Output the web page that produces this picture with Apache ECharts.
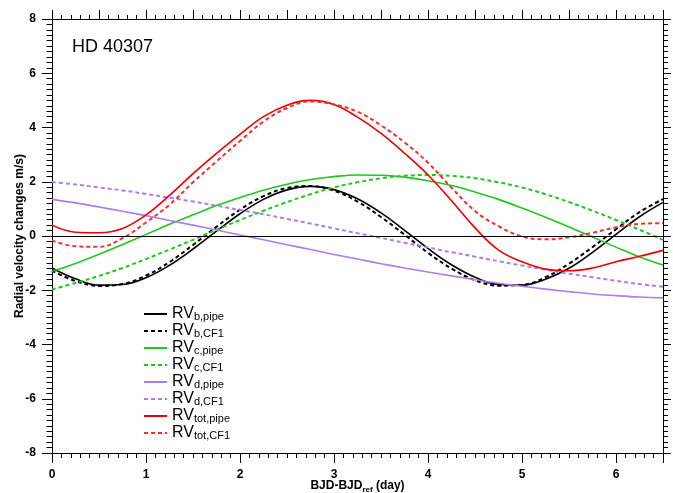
<!DOCTYPE html>
<html>
<head>
<meta charset="utf-8">
<script src="https://cdn.jsdelivr.net/npm/echarts@6/dist/echarts.min.js"></script>
<style>html,body{margin:0;padding:0;background:#fff}#c{width:673px;height:493px}</style>
</head>
<body>
<div id="c"></div>
<script>
// ---- Data ----
const days = [0,0.25,0.5,0.75,1,1.25,1.5,1.75,2,2.25,2.5,2.75,3,3.25,3.5,3.75,4,4.25,4.5,4.75,5,5.25,5.5,5.75,6,6.25,6.5];

const rvBPipe = [-1.18,-1.58,-1.81,-1.79,-1.54,-1.08,-0.48,0.18,0.82,1.35,1.70,1.83,1.71,1.37,0.85,0.21,-0.46,-1.06,-1.52,-1.79,-1.81,-1.59,-1.19,-0.60,0.06,0.71,1.24];
const rvBCF1  = [-1.28,-1.66,-1.84,-1.77,-1.46,-0.96,-0.33,0.34,0.97,1.47,1.77,1.84,1.67,1.27,0.70,0.05,-0.62,-1.20,-1.63,-1.83,-1.80,-1.52,-1.02,-0.41,0.25,0.88,1.36];
const rvCPipe = [-1.30,-1.01,-0.67,-0.31,0.06,0.43,0.78,1.12,1.42,1.69,1.91,2.08,2.19,2.25,2.24,2.17,2.04,1.86,1.62,1.35,1.03,0.69,0.33,-0.04,-0.41,-0.77,-1.07];
const rvCCF1  = [-1.97,-1.73,-1.47,-1.18,-0.85,-0.50,-0.14,0.23,0.59,0.93,1.25,1.54,1.79,1.98,2.13,2.22,2.25,2.22,2.13,1.98,1.79,1.54,1.25,0.93,0.59,0.23,-0.14];
const rvDPipe = [1.35,1.22,1.07,0.91,0.75,0.57,0.40,0.22,0.04,-0.14,-0.32,-0.50,-0.68,-0.85,-1.02,-1.18,-1.33,-1.47,-1.61,-1.74,-1.85,-1.96,-2.05,-2.14,-2.20,-2.25,-2.28];
const rvDCF1  = [1.99,1.90,1.79,1.68,1.55,1.41,1.27,1.12,0.96,0.80,0.63,0.46,0.28,0.10,-0.07,-0.25,-0.42,-0.60,-0.76,-0.93,-1.09,-1.24,-1.39,-1.52,-1.65,-1.77,-1.87];
const rvTotPipe = [0.40,0.14,0.12,0.28,0.78,1.50,2.30,3.05,3.75,4.40,4.82,5.00,4.85,4.38,3.78,3.05,2.25,1.30,0.30,-0.52,-0.95,-1.22,-1.28,-1.18,-0.95,-0.75,-0.53];
const rvTotCF1  = [-0.17,-0.38,-0.40,-0.08,0.50,1.15,1.98,2.75,3.50,4.22,4.72,4.96,4.85,4.58,4.08,3.45,2.70,1.78,0.92,0.36,-0.02,-0.12,-0.05,0.12,0.32,0.45,0.47];

const seriesNames = ['RV_b,pipe','RV_b,CF1','RV_c,pipe','RV_c,CF1','RV_d,pipe','RV_d,CF1','RV_tot,pipe','RV_tot,CF1'];
const seriesValues = [rvBPipe, rvBCF1, rvCPipe, rvCCF1, rvDPipe, rvDCF1, rvTotPipe, rvTotCF1];
const xTicks = [0,1,2,3,4,5,6];
const yTicks = [-8,-6,-4,-2,0,2,4,6,8];

// ---- Styles ----
const colors = ['#000000','#000000','#1ec81e','#1ec81e','#a87ef0','#a87ef0','#f00000','#f03030'];
const dashed = [false,true,false,true,false,true,false,true];
const FONT = 'Liberation Sans';

const series = seriesNames.map((n, i) => {
  const s = {
    name: n,
    type: 'line',
    xAxisIndex: 0,
    yAxisIndex: 0,
    data: days.map((d, j) => [d, seriesValues[i][j]]),
    smooth: 0.4,
    symbol: 'none',
    lineStyle: {
      color: colors[i],
      width: dashed[i] ? 2 : 1.6,
      type: dashed[i] ? [4, 3] : 'solid'
    },
    itemStyle: { color: colors[i] },
    animation: false
  };
  if (i === 0) {
    s.markLine = {
      silent: true,
      symbol: ['none','none'],
      label: { show: false },
      lineStyle: { color: '#000', width: 1, type: 'solid' },
      data: [{ yAxis: 0 }],
      animation: false
    };
  }
  return s;
});

const tickStyle = { lineStyle: { color: '#000', width: 1 } };

const option = {
  backgroundColor: '#fff',
  animation: false,
  title: {
    text: 'HD 40307',
    left: 67, top: 33,
    textStyle: { fontFamily: FONT, fontSize: 18, fontWeight: 'normal', color: '#000' }
  },
  grid: { left: 52, right: 10, top: 19, bottom: 40, containLabel: false, outerBoundsMode: 'none' },
  legend: {
    orient: 'vertical',
    left: 138, top: 301,
    itemWidth: 23, itemHeight: 10,
    itemGap: 1,
    data: seriesNames,
    itemStyle: { opacity: 0 },
    formatter: function (name) {
      const p = name.split('_');
      return '{m|' + p[0] + '}{s|' + p[1] + '}';
    },
    textStyle: {
      color: '#000',
      fontFamily: FONT,
      rich: {
        m: { fontSize: 16, lineHeight: 16, fontFamily: FONT, color: '#000', verticalAlign: 'middle' },
        s: { fontSize: 11, lineHeight: 8, fontFamily: FONT, color: '#000', verticalAlign: 'bottom' }
      }
    }
  },
  xAxis: [
    {
      type: 'value', position: 'bottom', min: 0, max: 6.5, interval: 1,
      name: '{m|BJD-BJD}{s|ref}{m| (day)}',
      nameLocation: 'middle', nameGap: 25, nameMoveOverlap: false,
      nameTextStyle: {
        rich: {
          m: { fontSize: 12, fontWeight: 'bold', fontFamily: FONT, color: '#000', lineHeight: 16, verticalAlign: 'middle' },
          s: { fontSize: 8, fontWeight: 'bold', fontFamily: FONT, color: '#000', lineHeight: 8, verticalAlign: 'bottom' }
        }
      },
      axisLine: { show: true, onZero: false, lineStyle: { color: '#000', width: 1 } },
      axisTick: { show: true, inside: false, length: 10, ...tickStyle },
      minorTick: { show: true, splitNumber: 10, length: 5, ...tickStyle },
      splitLine: { show: false },
      axisLabel: {
        margin: 16, color: '#000', fontFamily: FONT, fontSize: 12, fontWeight: 'bold',
        formatter: v => (xTicks.includes(v) ? String(v) : '')
      }
    },
    {
      type: 'value', position: 'top', min: 0, max: 6.5, interval: 0.5,
      axisLine: { show: true, onZero: false, lineStyle: { color: '#000', width: 1 } },
      axisTick: { show: true, inside: false, length: 9, ...tickStyle },
      minorTick: { show: true, splitNumber: 5, length: 4, ...tickStyle },
      splitLine: { show: false },
      axisLabel: { show: false }
    }
  ],
  yAxis: [
    {
      type: 'value', position: 'left', min: -8, max: 8, interval: 2,
      name: 'Radial velocity changes m/s)',
      nameLocation: 'middle', nameGap: 26, nameMoveOverlap: false,
      nameTextStyle: { fontFamily: FONT, fontSize: 12, fontWeight: 'bold', color: '#000' },
      axisLine: { show: true, onZero: false, lineStyle: { color: '#000', width: 1 } },
      axisTick: { show: true, inside: false, length: 10, ...tickStyle },
      minorTick: { show: true, splitNumber: 10, length: 5.5, ...tickStyle },
      splitLine: { show: false },
      axisLabel: {
        margin: 16, color: '#000', fontFamily: FONT, fontSize: 12, fontWeight: 'bold',
        formatter: v => (yTicks.includes(v) ? String(v) : '')
      }
    },
    {
      type: 'value', position: 'right', min: -8, max: 8, interval: 2,
      axisLine: { show: true, onZero: false, lineStyle: { color: '#000', width: 1 } },
      axisTick: { show: true, inside: false, length: 8, ...tickStyle },
      minorTick: { show: true, splitNumber: 10, length: 5, ...tickStyle },
      splitLine: { show: false },
      axisLabel: { show: false }
    }
  ],
  series: series
};

const chart = echarts.init(document.getElementById('c'), null, { renderer: 'canvas' });
chart.setOption(option);
</script>
</body>
</html>
